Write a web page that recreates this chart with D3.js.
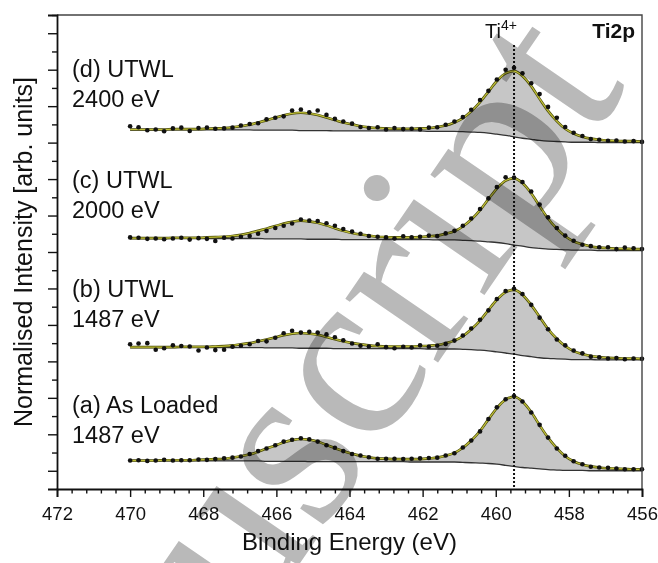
<!DOCTYPE html>
<html><head><meta charset="utf-8">
<script src="https://cdn.jsdelivr.net/npm/d3@7"></script>
<style>body{margin:0;background:#fff}svg{display:block}</style>
</head><body>
<svg id="chart" width="658" height="563"></svg>
<script>
// ---------------- DATA ----------------
const energies = [470.00,469.77,469.53,469.30,469.07,468.83,468.60,468.37,468.13,467.90,
467.67,467.43,467.20,466.97,466.73,466.50,466.27,466.03,465.80,465.57,
465.33,465.10,464.87,464.63,464.40,464.17,463.93,463.70,463.47,463.23,
463.00,462.77,462.53,462.30,462.07,461.83,461.60,461.37,461.13,460.90,
460.67,460.43,460.20,459.97,459.73,459.50,459.27,459.03,458.80,458.57,
458.33,458.10,457.87,457.63,457.40,457.17,456.93,456.70,456.47,456.23,456.00];

const dotsA = [0.28,0.29,0.27,0.28,0.30,0.28,0.29,0.29,0.31,0.30,0.32,0.34,0.36,0.39,0.46,0.54,0.61,0.70,0.80,0.85,
0.89,0.86,0.80,0.70,0.63,0.54,0.46,0.42,0.37,0.33,0.33,0.33,0.32,0.33,0.34,0.35,0.36,0.42,0.48,0.64,
0.83,1.08,1.42,1.74,1.96,2.05,1.90,1.60,1.26,0.91,0.61,0.41,0.26,0.18,0.11,0.09,0.08,0.06,0.04,0.04,0.04];
const fitA = [0.28,0.28,0.28,0.28,0.29,0.29,0.29,0.29,0.30,0.31,0.32,0.33,0.36,0.40,0.45,0.52,0.61,0.69,0.78,0.84,
0.87,0.85,0.80,0.71,0.62,0.54,0.47,0.41,0.37,0.34,0.33,0.32,0.32,0.32,0.32,0.34,0.36,0.41,0.49,0.63,
0.83,1.09,1.41,1.72,1.95,2.03,1.90,1.61,1.25,0.91,0.62,0.40,0.26,0.17,0.12,0.09,0.07,0.06,0.05,0.04,0.04];
const bgA = [0.27,0.27,0.27,0.27,0.27,0.27,0.27,0.27,0.27,0.27,0.27,0.27,0.27,0.27,0.27,0.27,0.26,0.26,0.26,0.26,
0.26,0.25,0.25,0.25,0.25,0.25,0.25,0.25,0.25,0.25,0.25,0.25,0.25,0.24,0.24,0.24,0.24,0.24,0.24,0.23,
0.22,0.21,0.20,0.18,0.15,0.12,0.09,0.07,0.05,0.03,0.02,0.01,0.01,0.01,0.00,0.00,0.00,0.00,0.00,0.00,0.00];

const dotsB = [3.47,3.49,3.50,3.32,3.36,3.44,3.42,3.41,3.30,3.38,3.31,3.32,3.40,3.43,3.47,3.56,3.55,3.65,3.77,3.84,
3.79,3.81,3.79,3.74,3.66,3.58,3.49,3.43,3.41,3.47,3.39,3.36,3.40,3.38,3.44,3.40,3.43,3.48,3.57,3.71,
3.90,4.14,4.40,4.71,4.93,4.99,4.85,4.55,4.20,3.88,3.60,3.44,3.30,3.22,3.13,3.11,3.08,3.09,3.06,3.08,3.07];
const fitB = [3.39,3.39,3.39,3.39,3.39,3.39,3.40,3.40,3.40,3.40,3.41,3.42,3.44,3.47,3.50,3.55,3.60,3.66,3.72,3.76,
3.78,3.76,3.73,3.67,3.61,3.55,3.50,3.47,3.44,3.42,3.41,3.41,3.41,3.41,3.42,3.43,3.45,3.50,3.57,3.69,
3.88,4.12,4.41,4.69,4.90,4.96,4.83,4.55,4.22,3.89,3.62,3.42,3.28,3.20,3.15,3.12,3.10,3.09,3.08,3.08,3.07];
const bgB = [3.38,3.38,3.38,3.38,3.38,3.38,3.38,3.38,3.38,3.38,3.38,3.38,3.38,3.38,3.38,3.38,3.37,3.37,3.37,3.37,
3.36,3.36,3.36,3.36,3.35,3.35,3.35,3.35,3.35,3.35,3.35,3.35,3.35,3.35,3.35,3.34,3.34,3.34,3.34,3.33,
3.32,3.31,3.29,3.26,3.23,3.20,3.16,3.13,3.10,3.08,3.07,3.06,3.05,3.05,3.05,3.04,3.04,3.04,3.04,3.04,3.04];

const dotsC = [6.40,6.39,6.36,6.37,6.35,6.37,6.39,6.34,6.38,6.36,6.30,6.39,6.37,6.42,6.44,6.50,6.58,6.66,6.72,6.78,
6.89,6.86,6.85,6.79,6.72,6.63,6.56,6.50,6.44,6.42,6.40,6.37,6.43,6.40,6.42,6.45,6.44,6.51,6.58,6.72,
6.92,7.18,7.47,7.78,8.05,8.04,7.92,7.66,7.30,6.95,6.66,6.45,6.31,6.20,6.16,6.13,6.13,6.08,6.12,6.10,6.08];
const fitC = [6.38,6.38,6.38,6.38,6.38,6.39,6.39,6.39,6.39,6.40,6.41,6.42,6.44,6.47,6.52,6.58,6.64,6.71,6.78,6.83,
6.86,6.84,6.80,6.73,6.65,6.58,6.52,6.48,6.45,6.42,6.41,6.40,6.40,6.40,6.41,6.43,6.45,6.50,6.57,6.70,
6.89,7.15,7.45,7.74,7.96,8.02,7.89,7.61,7.26,6.92,6.64,6.43,6.29,6.21,6.15,6.12,6.11,6.09,6.09,6.08,6.08];
const bgC = [6.37,6.37,6.37,6.37,6.37,6.37,6.37,6.37,6.37,6.37,6.37,6.37,6.37,6.37,6.37,6.37,6.36,6.36,6.36,6.36,
6.36,6.35,6.35,6.35,6.35,6.34,6.34,6.34,6.34,6.34,6.34,6.34,6.34,6.34,6.34,6.34,6.33,6.33,6.33,6.32,
6.31,6.30,6.28,6.26,6.23,6.19,6.16,6.12,6.10,6.08,6.07,6.06,6.05,6.05,6.05,6.04,6.04,6.04,6.04,6.04,6.04];

const dotsD = [9.45,9.42,9.34,9.36,9.31,9.39,9.41,9.32,9.40,9.41,9.38,9.39,9.41,9.47,9.51,9.53,9.64,9.68,9.72,9.88,
9.91,9.83,9.88,9.76,9.65,9.58,9.52,9.43,9.40,9.42,9.36,9.40,9.37,9.38,9.36,9.41,9.42,9.49,9.58,9.70,
9.90,10.17,10.42,10.73,11.00,11.05,10.90,10.63,10.33,9.98,9.68,9.43,9.27,9.18,9.10,9.08,9.05,9.06,9.03,9.04,9.02];
const fitD = [9.36,9.36,9.36,9.36,9.36,9.37,9.37,9.37,9.37,9.38,9.39,9.40,9.42,9.45,9.49,9.55,9.61,9.68,9.75,9.80,
9.82,9.80,9.76,9.69,9.62,9.55,9.50,9.45,9.42,9.40,9.39,9.38,9.38,9.38,9.39,9.40,9.43,9.47,9.55,9.67,
9.86,10.11,10.40,10.69,10.90,10.96,10.83,10.55,10.20,9.87,9.59,9.38,9.25,9.16,9.11,9.08,9.06,9.05,9.04,9.04,9.03];
const bgD = [9.35,9.35,9.35,9.35,9.35,9.35,9.35,9.35,9.35,9.35,9.35,9.35,9.35,9.35,9.35,9.34,9.34,9.34,9.34,9.34,
9.33,9.33,9.33,9.33,9.32,9.32,9.32,9.32,9.32,9.32,9.32,9.32,9.32,9.32,9.32,9.31,9.31,9.31,9.31,9.30,
9.29,9.28,9.26,9.23,9.20,9.16,9.12,9.09,9.06,9.04,9.03,9.02,9.01,9.01,9.01,9.00,9.00,9.00,9.00,9.00,9.00];

const sampleLabels = ["(a) As Loaded", "(b) UTWL", "(c) UTWL", "(d) UTWL"];
const photonLabels = ["1487 eV", "1487 eV", "2000 eV", "2400 eV"];
const labelLevels = [1.59, 4.77, 7.76, 10.80];   // first-line baseline, in intensity units
const xMajorTicks = [472, 470, 468, 466, 464, 462, 460, 458, 456];
const yMajorTicks = [0,1,2,3,4,5,6,7,8,9,10,11,12];
const ti4Position = 459.5;

// ---------------- LAYOUT ----------------
const W = 658, H = 563;
const M = {left: 57, right: 16, top: 15, bottom: 74};
const svg = d3.select("#chart");
const x = d3.scaleLinear().domain([472, 456]).range([M.left, W - M.right]);
const y = d3.scaleLinear().domain([-0.5, 12.5]).range([H - M.bottom, M.top]);
const FONT = "'Liberation Sans', Arial, sans-serif";

const series = [
  {dots: dotsA, fit: fitA, bg: bgA},
  {dots: dotsB, fit: fitB, bg: bgB},
  {dots: dotsC, fit: fitC, bg: bgC},
  {dots: dotsD, fit: fitD, bg: bgD}
].map(s => energies.map((e, i) => ({e, d: s.dots[i], f: s.fit[i], b: s.bg[i]})));

const area = d3.area().x(p => x(p.e)).y0(p => y(p.b)).y1(p => y(p.f)).curve(d3.curveMonotoneX);
const fitLine = d3.line().x(p => x(p.e)).y(p => y(p.f)).curve(d3.curveMonotoneX);
const bgLine = d3.line().x(p => x(p.e)).y(p => y(p.b)).curve(d3.curveMonotoneX);

const plot = svg.append("g");
series.forEach(s => {
  plot.append("path").attr("d", area(s)).attr("fill", "#c6c6c6").attr("stroke", "none");
});
series.forEach(s => {
  plot.append("path").attr("d", bgLine(s)).attr("fill", "none").attr("stroke", "#333").attr("stroke-width", 1.3);
});
// Ti4+ reference line
plot.append("line").attr("x1", x(ti4Position)).attr("x2", x(ti4Position))
  .attr("y1", 45).attr("y2", y(-0.5))
  .attr("stroke", "#111").attr("stroke-width", 2).attr("stroke-dasharray", "2,2");
series.forEach(s => {
  plot.append("path").attr("d", fitLine(s)).attr("fill", "none").attr("stroke", "#4a4a08").attr("stroke-width", 2.6);
  plot.append("path").attr("d", fitLine(s)).attr("fill", "none").attr("stroke", "#c2c23a").attr("stroke-width", 1.2);
});
series.forEach(s => {
  plot.append("g").selectAll("circle").data(s).join("circle")
    .attr("cx", p => x(p.e)).attr("cy", p => y(p.d)).attr("r", 2.3).attr("fill", "#111");
});

// frame (top and right)
svg.append("path")
  .attr("d", `M${x(472)},${y(12.5)}H${x(456)}V${y(-0.5)}`)
  .attr("fill", "none").attr("stroke", "#444").attr("stroke-width", 1.4);

// axes
const xMinor = d3.range(472, 455.9, -0.4).filter(v => Math.abs(v/2 - Math.round(v/2)) > 0.01);
const gx = svg.append("g").attr("transform", `translate(0,${y(-0.5)})`);
gx.call(d3.axisBottom(x).tickValues(xMajorTicks).tickSize(8).tickPadding(10).tickFormat(d3.format("d")));
const gxm = svg.append("g").attr("transform", `translate(0,${y(-0.5)})`);
gxm.call(d3.axisBottom(x).tickValues(xMinor).tickSize(4.5).tickFormat(""));
gxm.select(".domain").remove();

const gy = svg.append("g").attr("transform", `translate(${x(472)},0)`);
gy.call(d3.axisLeft(y).tickValues(yMajorTicks).tickSize(9).tickFormat(""));
const gym = svg.append("g").attr("transform", `translate(${x(472)},0)`);
gym.call(d3.axisLeft(y).tickValues(yMajorTicks.map(v => v + 0.5)).tickSize(5).tickFormat(""));
gym.select(".domain").remove();

svg.selectAll(".domain").attr("stroke", "#111").attr("stroke-width", 1.8);
svg.selectAll(".tick line").attr("stroke", "#111").attr("stroke-width", 1.4);
gx.selectAll(".tick text").style("font-family", FONT).style("font-size", "18.5px").attr("fill", "#111");

// axis titles
svg.append("text").attr("x", (x(472) + x(456)) / 2).attr("y", 550)
  .attr("text-anchor", "middle").style("font-family", FONT).style("font-size", "24px").attr("fill", "#111")
  .text("Binding Energy (eV)");
svg.append("text").attr("transform", `translate(32,${(y(-0.5) + y(12.5)) / 2}) rotate(-90)`)
  .attr("text-anchor", "middle").style("font-family", FONT).style("font-size", "25px").attr("fill", "#111")
  .text("Normalised Intensity [arb. units]");

// sample labels
sampleLabels.forEach((t, k) => {
  const yb = y(labelLevels[k]);
  const tx = svg.append("text").attr("x", 72).attr("y", yb)
    .style("font-family", FONT).style("font-size", "23.5px").attr("fill", "#111");
  tx.append("tspan").attr("x", 72).text(t);
  tx.append("tspan").attr("x", 72).attr("dy", 30).text(photonLabels[k]);
});

// peak label
const tl = svg.append("text").attr("x", 485).attr("y", 38)
  .style("font-family", FONT).style("font-size", "20px").attr("fill", "#111");
tl.append("tspan").text("Ti");
tl.append("tspan").attr("dy", -8).style("font-size", "14px").text("4+");
svg.append("text").attr("x", 635).attr("y", 38).attr("text-anchor", "end")
  .style("font-family", FONT).style("font-size", "21px").style("font-weight", "bold").attr("fill", "#111")
  .text("Ti2p");

// watermark overlay
svg.append("text").attr("transform", "translate(628,86) rotate(-55.5)")
  .attr("text-anchor", "end").style("font-family", "'Liberation Serif', 'Times New Roman', serif")
  .style("font-size", "245px").attr("fill", "#b9b9b9").style("mix-blend-mode", "multiply")
  .text("Manuscript");
</script>
</body></html>
